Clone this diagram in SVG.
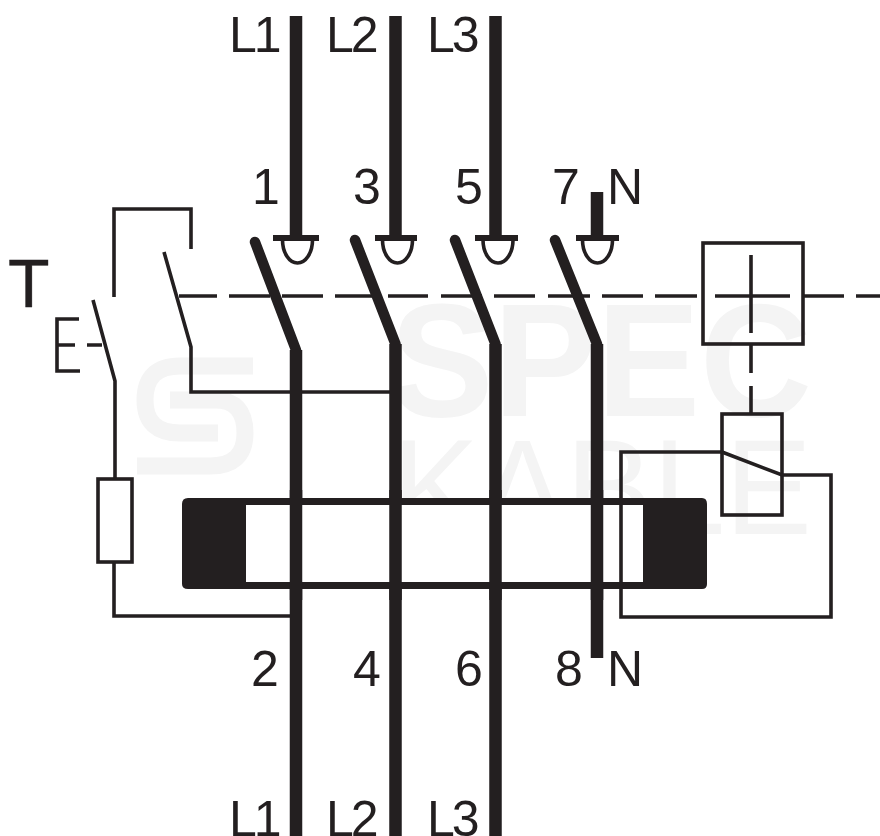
<svg xmlns="http://www.w3.org/2000/svg" width="880" height="836" viewBox="0 0 880 836">
<style>
.t{font-family:"Liberation Sans",Arial,sans-serif;font-size:50px;fill:#231f20}
.l{letter-spacing:-3px}
.w{font-family:"Liberation Sans",Arial,sans-serif;fill:#f4f4f4}
.thin{fill:none;stroke:#231f20;stroke-width:3.6}
.thick{fill:none;stroke:#231f20;stroke-width:12.5}
.blade{fill:none;stroke:#231f20;stroke-width:10.5;stroke-linecap:round}
</style>
<rect width="880" height="836" fill="#fff"/>
<g id="watermark">
<path d="M253 366H180Q145 366 145 400Q145 433 180 433H218M170 400H215Q245 400 245 433Q245 466 210 466H137" fill="none" stroke="#f4f4f4" stroke-width="17"/>
<text class="w" x="390" y="416" font-size="162" font-weight="bold" textLength="422" lengthAdjust="spacingAndGlyphs">SPEC</text>
<text class="w" x="392" y="534" font-size="135" textLength="420" lengthAdjust="spacingAndGlyphs">KABLE</text>
</g>
<g id="connectors">
<path class="thin" d="M179 296H217M229 296H270M282 296H323M335 296H372M388 296H428M441 296H482M494 296H535M548 296H590M602 296H643M655 296H697M804 296H844M856 296H880"/>
<path class="thin" d="M751 345V373M751 386V414"/>
<path class="thin" d="M114 297V209H191V249"/>
<path class="thin" d="M164 252L191 347V392H392"/>
<path class="thin" d="M93 300L115 381V478M114 563V616H292"/>
<path class="thin" d="M79 319H57V371H80M57 345H75M87 345H102"/>
</g>
<g id="conductors">
<path class="blade" d="M255 242L296 350M355 240L395.5 344M455 240L495.5 344M555 240L597 344"/>
<path class="thick" d="M296 16V238M395.5 16V238M495.5 16V238M597 192V238"/>
<path class="thick" d="M296 350V836M395.5 344V836M495.5 344V836M597 344V658"/>
</g>
<g id="contacts">
<path class="thin" style="stroke-width:6" d="M273 238H319M375 238H417M475 238H518M576 238H619"/>
<path class="thin" d="M282.500 240A15 23 0 0 0 312.500 240M382.500 240A15 23 0 0 0 412.500 240M483 240A15 23 0 0 0 513 240M582.500 240A15 23 0 0 0 612.500 240"/>
</g>
<g id="core">
<path d="M182 504Q182 498 188 498H702Q707 498 707 504V584Q707 589 702 589H188Q182 589 182 584Z" fill="#231f20"/>
<rect x="246" y="505" width="397" height="77" fill="#fff"/>
<path class="thick" d="M296 490V600M395.500 490V600M495.500 490V600M597 490V600"/>
</g>
<g id="relay">
<rect class="thin" x="703" y="243" width="100" height="101"/>
<path class="thin" d="M751 255V333M715 296H790"/>
<rect class="thin" x="722" y="414" width="60" height="101"/>
<path class="thin" d="M722 452H621V617H831V475H782L722 452"/>
</g>
<g id="resistor">
<rect class="thin" x="98" y="479" width="34" height="83" fill="#fff"/>
</g>
<g id="labels">
<text class="t l" x="229" y="52">L1</text>
<text class="t l" x="326" y="52">L2</text>
<text class="t l" x="427" y="52">L3</text>
<text class="t" x="252" y="204">1</text>
<text class="t" x="353" y="204">3</text>
<text class="t" x="455" y="204">5</text>
<text class="t" x="552" y="204">7</text>
<text class="t" x="607" y="204">N</text>
<text class="t" style="font-size:68px;stroke:#231f20;stroke-width:0.4" x="8" y="307">T</text>
<text class="t" x="251" y="686">2</text>
<text class="t" x="353" y="686">4</text>
<text class="t" x="455" y="686">6</text>
<text class="t" x="555" y="686">8</text>
<text class="t" x="607" y="686">N</text>
<text class="t l" x="229" y="836">L1</text>
<text class="t l" x="326" y="836">L2</text>
<text class="t l" x="427" y="836">L3</text>
</g>
</svg>
